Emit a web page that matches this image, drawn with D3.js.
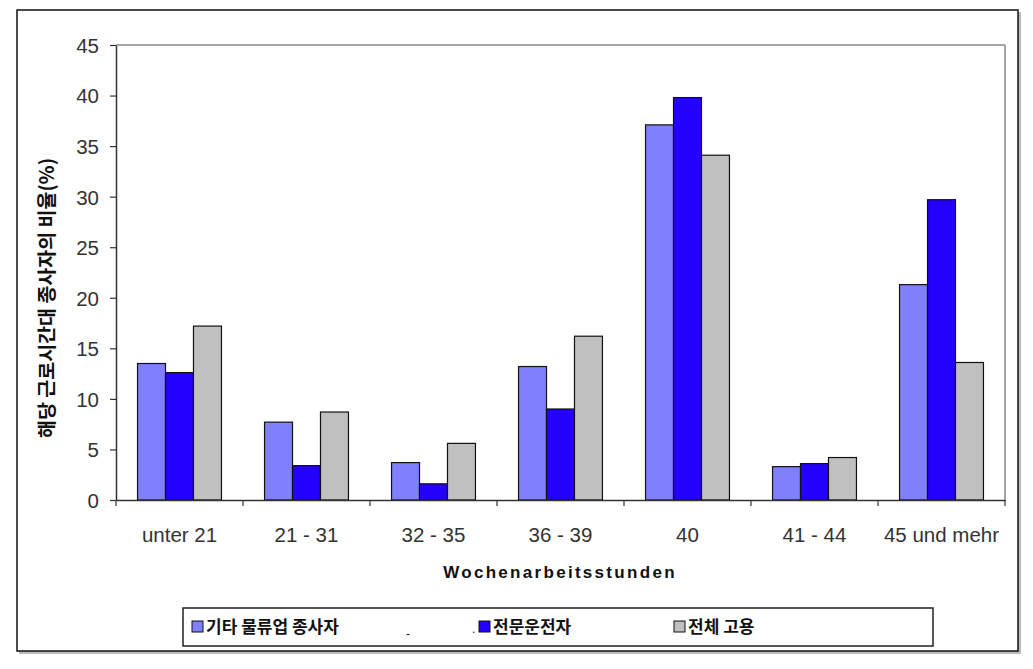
<!DOCTYPE html>
<html><head><meta charset="utf-8">
<script src="https://cdn.jsdelivr.net/npm/d3@7"></script>
<style>body{margin:0;background:#fff}svg{display:block}</style>
</head><body>
<svg id="c" width="1033" height="669"></svg>
<script>
const categories = ["unter 21","21 - 31","32 - 35","36 - 39","40","41 - 44","45 und mehr"];
const seriesNames = ["기타 물류업 종사자","전문운전자","전체 고용"];
const seriesColors = ["#8080FF","#2400FF","#C0C0C0"];
const sOther = [13.5,7.7,3.7,13.2,37.1,3.3,21.3];
const sDriver = [12.6,3.4,1.6,9.0,39.8,3.6,29.7];
const sTotal = [17.2,8.7,5.6,16.2,34.1,4.2,13.6];
const yTicks = [0,5,10,15,20,25,30,35,40,45];
const series = [sOther,sDriver,sTotal];

const svg = d3.select("#c");
const m = {l:116,r:1005,t:45,b:500};
const font = "'Liberation Sans', Arial, sans-serif";
const kfont = "'Noto Sans CJK KR', sans-serif";

// outer frame with shadow
svg.append("rect").attr("x",19).attr("y",12).attr("width",1002).attr("height",642).attr("fill","#bbb");
svg.append("rect").attr("x",17).attr("y",10).attr("width",1001).attr("height",641).attr("fill","#fff").attr("stroke","#111").attr("stroke-width",1.5);

const x0 = d3.scaleBand().domain(categories).range([m.l,m.r]).paddingInner(0).paddingOuter(0);
const x1 = d3.scaleBand().domain([0,1,2]).range([0,x0.bandwidth()]).paddingInner(0).paddingOuter(0.77);
const y = d3.scaleLinear().domain([0,45]).range([m.b,m.t]);

// plot border top/right
svg.append("line").attr("x1",m.l).attr("x2",m.r).attr("y1",m.t).attr("y2",m.t).attr("stroke","#888").attr("stroke-width",1.5);
svg.append("line").attr("x1",m.r).attr("x2",m.r).attr("y1",m.t).attr("y2",m.b).attr("stroke","#888").attr("stroke-width",1.5);

const g = svg.append("g");
series.forEach((s,si)=>{
  g.selectAll(null).data(s).enter().append("rect")
   .attr("x",(d,i)=>x0(categories[i])+x1(si))
   .attr("y",d=>y(d))
   .attr("width",x1.bandwidth())
   .attr("height",d=>y(0)-y(d))
   .attr("fill",seriesColors[si])
   .attr("stroke","#111").attr("stroke-width",1.2);
});

// y axis
const ya = svg.append("g").attr("transform",`translate(${m.l},0)`)
 .call(d3.axisLeft(y).tickValues(yTicks).tickSize(6).tickSizeOuter(0));
ya.select(".domain").attr("stroke","#333").attr("stroke-width",1.5);
ya.selectAll(".tick line").attr("stroke","#333").attr("stroke-width",1.2);
ya.selectAll(".tick text").attr("font-family",font).attr("font-size",20.5).attr("fill","#333").attr("x",-17).attr("dy","0.36em");

// x axis
const xa = svg.append("g").attr("transform",`translate(0,${m.b})`)
 .call(d3.axisBottom(x0).tickSize(0).tickSizeOuter(0));
xa.select(".domain").attr("stroke","#333").attr("stroke-width",1.5);
xa.selectAll(".tick text").attr("font-family",font).attr("font-size",20.5).attr("fill","#333").attr("dy",0).attr("y",42);
const bounds = categories.map(c=>x0(c)).concat([m.r]);
svg.selectAll(null).data(bounds).enter().append("line")
 .attr("x1",d=>d).attr("x2",d=>d).attr("y1",m.b).attr("y2",m.b+6).attr("stroke","#333").attr("stroke-width",1.2);

// titles
svg.append("text").attr("x",560).attr("y",578).attr("text-anchor","middle")
 .attr("font-family",font).attr("font-weight","bold").attr("font-size",17).attr("letter-spacing",2.3).attr("fill","#111")
 .text("Wochenarbeitsstunden");
svg.append("text").attr("transform","translate(54,298) rotate(-90)").attr("text-anchor","middle")
 .attr("font-family",kfont).attr("font-weight","bold").attr("font-size",19.5).attr("fill","#111")
 .text("해당 근로시간대 종사자의 비율(%)");

// legend
svg.append("rect").attr("x",183).attr("y",608).attr("width",750).attr("height",38).attr("fill","#fff").attr("stroke","#222").attr("stroke-width",1.5);
const legX = [192,479,674];
seriesNames.forEach((n,i)=>{
  svg.append("rect").attr("x",legX[i]).attr("y",621).attr("width",11).attr("height",11).attr("fill",seriesColors[i]).attr("stroke","#111").attr("stroke-width",1);
  svg.append("text").attr("x",legX[i]+14).attr("y",633).attr("font-family",kfont).attr("font-weight","bold").attr("font-size",17).attr("fill","#111").text(n);
});
svg.append("text").attr("x",406).attr("y",638).attr("font-family",font).attr("font-size",12).attr("fill","#111").text("-");
svg.append("text").attr("x",472).attr("y",633).attr("font-family",font).attr("font-size",12).attr("fill","#111").text(".");
</script>
</body></html>
